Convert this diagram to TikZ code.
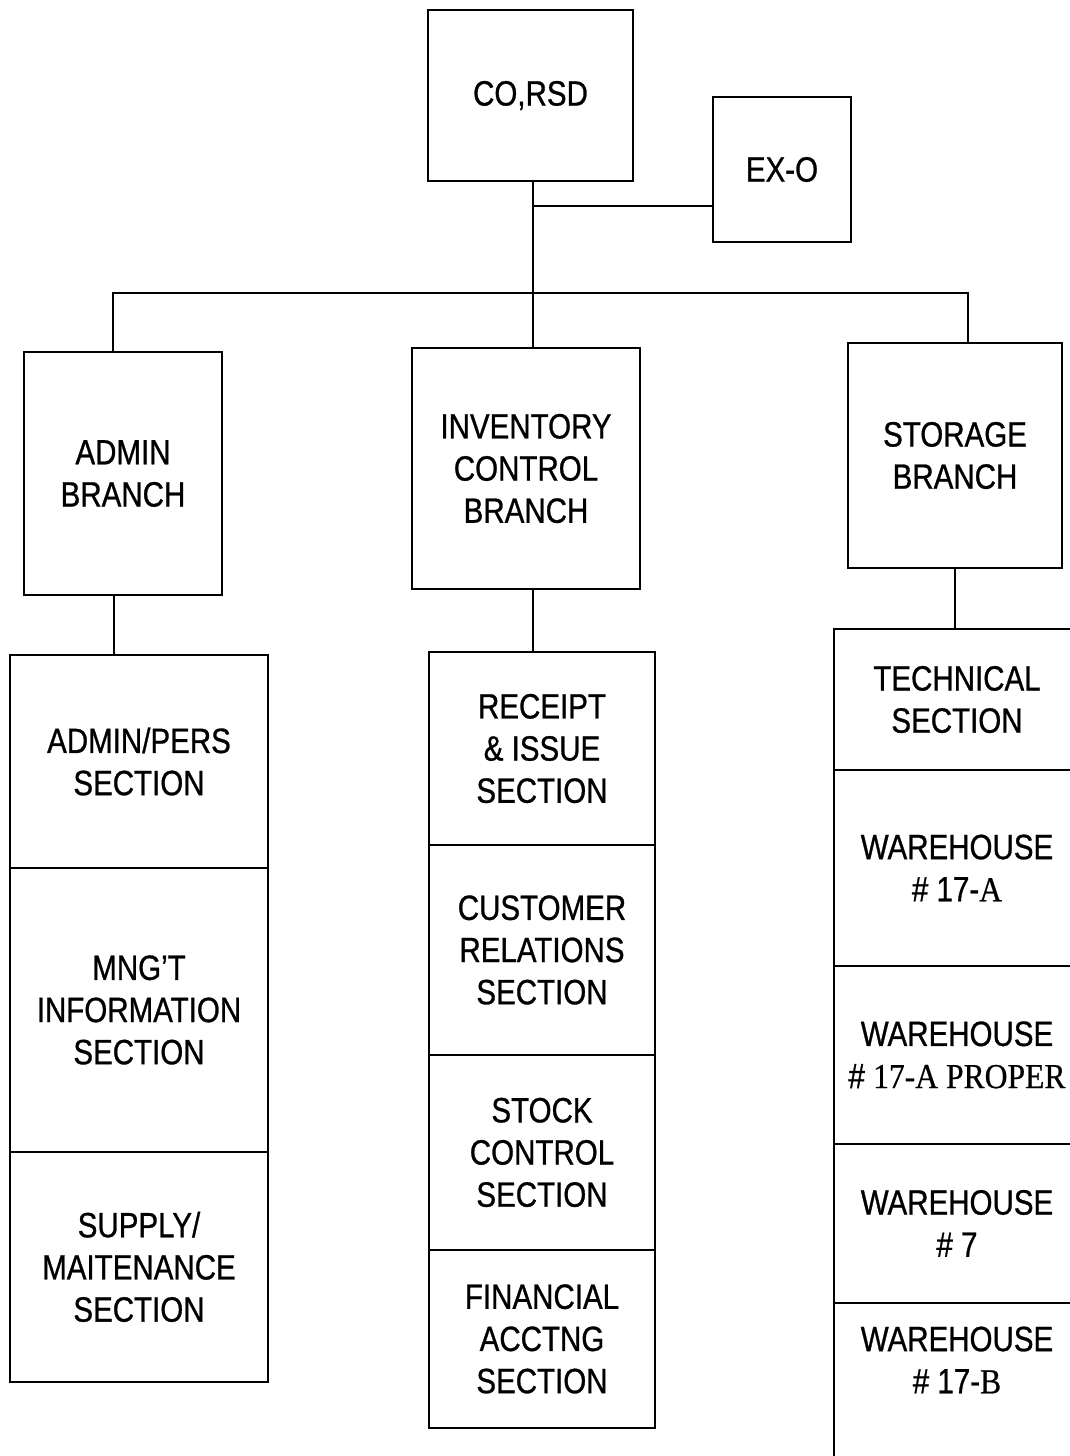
\documentclass[tikz,border=0pt]{standalone}
\usepackage{fontspec}
\setmainfont{Liberation Sans}[FakeStretch=0.84,FakeBold=0.8]
\newfontfamily\romanpart{Liberation Serif}[FakeStretch=0.9,FakeBold=0.6]
\usetikzlibrary{positioning}

\begin{document}
\begin{tikzpicture}[x=0.02cm,y=-0.02cm,
		unit/.style={rectangle,draw,line width=1pt,outer sep=0pt,inner sep=2pt,
			align=center,font=\fontsize{20}{24}\selectfont},
		unittext/.style={align=center,font=\fontsize{20}{24}\selectfont},
		link/.style={line width=0.9pt},
		]
		\useasboundingbox (0,0) rectangle (1070,1456);
		\clip (0,0) rectangle (1070,1456);
		% Command level
		\node[unit,minimum width=4.1cm,minimum height=3.42cm] (corsd) at (530.5,95.5) {CO,RSD};
		\node[unit,minimum width=2.76cm,minimum height=2.9cm] (exo) at (782,169.5) {EX-O};
		
		% Branches
		\node[unit,minimum width=3.96cm,minimum height=4.86cm] (admin) at (123,473.5) {ADMIN\\BRANCH};
		\node[unit,minimum width=4.56cm,minimum height=4.82cm] (inv) at (526,468.5) {INVENTORY\\CONTROL\\BRANCH};
		\node[unit,minimum width=4.28cm,minimum height=4.5cm] (stor) at (955,455.5) {STORAGE\\BRANCH};
		
		% Admin sections
		\node[unit,minimum width=5.16cm,minimum height=4.26cm] (adpers) at (139,761.5) {ADMIN/PERS\\SECTION};
		\node[unit,minimum width=5.16cm,minimum height=5.68cm,below=0pt of adpers] (mngt) {MNG'T\\INFORMATION\\SECTION};
		\node[unit,minimum width=5.16cm,minimum height=4.6cm,below=0pt of mngt] (supply) {SUPPLY/\\MAITENANCE\\SECTION};
		
		% Inventory sections
		\node[unit,minimum width=4.52cm,minimum height=3.86cm] (receipt) at (542,748.5) {RECEIPT\\\& ISSUE\\SECTION};
		\node[unit,minimum width=4.52cm,minimum height=4.2cm,below=0pt of receipt] (cust) {CUSTOMER\\RELATIONS\\SECTION};
		\node[unit,minimum width=4.52cm,minimum height=3.9cm,below=0pt of cust] (stock) {STOCK\\CONTROL\\SECTION};
		\node[unit,minimum width=4.52cm,minimum height=3.56cm,below=0pt of stock] (fin) {FINANCIAL\\ACCTNG\\SECTION};
		
		% Storage sections
		\node[unit,minimum width=4.92cm,minimum height=2.82cm] (tech) at (957,699.5) {TECHNICAL\\SECTION};
		\node[unit,minimum width=4.92cm,minimum height=3.92cm,below=0pt of tech] (wha) {WAREHOUSE\\\# 17-{\romanpart A}};
		\node[unit,minimum width=4.92cm,minimum height=3.56cm,below=0pt of wha] (whap) {WAREHOUSE\\\# {\romanpart 17-A PROPER}};
		\node[unit,minimum width=4.92cm,minimum height=3.18cm,below=0pt of whap] (whseven) {WAREHOUSE\\\# 7};
		\node[unit,minimum width=4.92cm,minimum height=4cm,below=0pt of whseven] (whb) {};
		\node[unittext] (whbtext) at (957,1360) {WAREHOUSE\\\# 17-{\romanpart B}};
		
		% Connectors
		\coordinate (hub) at (533,206);
		\coordinate (bus) at (533,293);
		\draw[link] (corsd.south -| hub) -- (inv.north -| hub);
		\draw[link] (hub) -- (hub -| exo.west);
		\draw[link] ([xshift=-0.2cm]admin.north) |- (bus) -| ([xshift=0.26cm]stor.north);
		\draw[link] ([xshift=-0.18cm]admin.south) -- ([xshift=-0.18cm]admin.south |- adpers.north);
		\draw[link] ([xshift=0.14cm]inv.south) -- ([xshift=0.14cm]inv.south |- receipt.north);
		\draw[link] (stor.south) -- (stor.south |- tech.north);
	\end{tikzpicture}
\end{document}
